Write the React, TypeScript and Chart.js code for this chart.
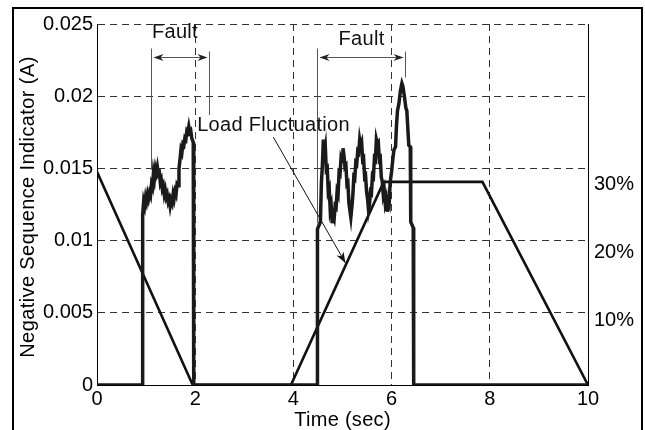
import React, { useEffect, useRef } from "react";
import { Chart, registerables } from "chart.js";

Chart.register(...registerables);

// ---- data ----
const xTicks = [0, 2, 4, 6, 8, 10];
const yTicks = [0, 0.005, 0.01, 0.015, 0.02, 0.025];
const rightTicks = [10, 20, 30];

// negative sequence indicator (A)
const sigT = [
  0, 0.93, 0.93, 0.95, 0.97, 0.99, 1.01, 1.03, 1.05, 1.07, 1.09, 1.11, 1.13, 1.15, 1.17, 1.19,
  1.21, 1.23, 1.25, 1.27, 1.29, 1.31, 1.33, 1.35, 1.37, 1.39, 1.41, 1.43, 1.45, 1.47, 1.49,
  1.51, 1.53, 1.55, 1.57, 1.59, 1.61, 1.63, 1.65, 1.67, 1.69, 1.71, 1.73, 1.75, 1.77, 1.79,
  1.81, 1.83, 1.85, 1.87, 1.89, 1.91, 1.93, 1.96, 1.97, 1.97,
  4.49, 4.49, 4.55, 4.57, 4.59, 4.61, 4.63, 4.65, 4.67, 4.69, 4.71, 4.73, 4.75, 4.77, 4.79,
  4.81, 4.83, 4.85, 4.87, 4.89, 4.91, 4.93, 4.95, 4.97, 4.99, 5.01, 5.03, 5.05, 5.07, 5.09,
  5.11, 5.13, 5.15, 5.17, 5.19, 5.21, 5.23, 5.25, 5.27, 5.29, 5.31, 5.33, 5.35, 5.37, 5.39,
  5.41, 5.43, 5.45, 5.47, 5.49, 5.51, 5.53, 5.55, 5.57, 5.59, 5.61, 5.63, 5.65, 5.67, 5.69,
  5.71, 5.73, 5.75, 5.77, 5.79, 5.81, 5.83, 5.85, 5.87, 5.89, 5.91, 5.93, 5.95, 5.97, 6.0,
  6.03, 6.05, 6.08, 6.10, 6.12, 6.15, 6.18, 6.21, 6.23, 6.26, 6.29, 6.31, 6.33, 6.35, 6.38,
  6.39, 6.44, 6.45, 10,
];
const sigV = [
  0, 0, 0.0118, 0.0127, 0.0124, 0.0130, 0.0127, 0.0132, 0.0129, 0.0133, 0.0131, 0.0139, 0.0137, 0.0147, 0.0143, 0.0150,
  0.0147, 0.0151, 0.0146, 0.0147, 0.0140, 0.0142, 0.0136, 0.0138, 0.0132, 0.0135, 0.0130, 0.0132, 0.0127, 0.0129, 0.0124,
  0.0128, 0.0126, 0.0132, 0.0129, 0.0134, 0.0132, 0.0139, 0.0138, 0.0150, 0.0156, 0.0163, 0.0161, 0.0167, 0.0166, 0.0171,
  0.0170, 0.0176, 0.0175, 0.0179, 0.0175, 0.0176, 0.0171, 0.0168, 0.0168, 0,
  0, 0.0108, 0.0113, 0.0140, 0.0152, 0.0170, 0.0161, 0.0165, 0.0149, 0.0150, 0.0134, 0.0136, 0.0121, 0.0124, 0.0112,
  0.0117, 0.0115, 0.0124, 0.0123, 0.0134, 0.0132, 0.0147, 0.0146, 0.0157, 0.0155, 0.0164, 0.0159, 0.0151, 0.0152, 0.0139,
  0.0140, 0.0126, 0.0121, 0.0116, 0.0123, 0.0131, 0.0144, 0.0143, 0.0154, 0.0153, 0.0162, 0.0161, 0.0170, 0.0166, 0.0168,
  0.0156, 0.0157, 0.0144, 0.0145, 0.0134, 0.0129, 0.0121, 0.0125, 0.0134, 0.0133, 0.0145, 0.0144, 0.0157, 0.0156, 0.0170,
  0.0167, 0.0168, 0.0156, 0.0157, 0.0144, 0.0141, 0.0132, 0.0135, 0.0126, 0.0129, 0.0120, 0.0127, 0.0125, 0.0140, 0.0148,
  0.0158, 0.0163, 0.0165, 0.0180, 0.0190, 0.0195, 0.0204, 0.0209, 0.0207, 0.0200, 0.0192, 0.0190, 0.0178, 0.0166, 0.0165,
  0.0113, 0.0109, 0, 0,
];

// load fluctuation (%)
const loadT = [0, 1.95, 3.95, 5.84, 7.85, 10];
const loadPct = [31.5, 0, 0, 30, 30, 0];

// text
const xTitle = "Time (sec)";
const yTitle = "Negative Sequence Indicator (A)";

// annotation anchors (data units)
const faultLabels = ["Fault", "Fault"];
const faultStart = [1.1, 4.49];
const faultEnd = [2.29, 6.27];
const faultStartBottom = [0.0149, 0.0112];
const faultEndBottom = [0.0187, 0.0213];
const faultTop = 0.0233;
const faultArrowY = 0.0227;
const faultTextX = [1.12, 4.92];
const faultTextY = [0.02438, 0.02396];
const loadLabel = "Load Fluctuation";
const loadTextPos = [2.04, 0.01794];
const loadArrowFrom = [3.59, 0.01717];
const loadArrowTo = [5.06, 0.00845];

const FONT = "'Liberation Sans', Arial, Helvetica, sans-serif";

function arrowHead(ctx: CanvasRenderingContext2D, x1: number, y1: number, x2: number, y2: number, len = 10, w = 3.5) {
  const a = Math.atan2(y2 - y1, x2 - x1);
  const c = Math.cos(a), s = Math.sin(a);
  ctx.beginPath();
  ctx.moveTo(x2, y2);
  ctx.lineTo(x2 - len * c + w * s, y2 - len * s - w * c);
  ctx.lineTo(x2 - len * 0.7 * c, y2 - len * 0.7 * s);
  ctx.lineTo(x2 - len * c - w * s, y2 - len * s + w * c);
  ctx.closePath();
  ctx.fill();
}

const annotPlugin = {
  id: "annot",
  afterDatasetsDraw(chart: any) {
    const { ctx, scales } = chart;
    const x = scales.x, y = scales.y;
    const px = (t: number) => x.getPixelForValue(t);
    const py = (v: number) => y.getPixelForValue(v);
    ctx.save();
    ctx.lineWidth = 1;
    for (let i = 0; i < faultStart.length; i++) {
      ctx.strokeStyle = "#555";
      ctx.fillStyle = "#222";
      const xs = Math.round(px(faultStart[i])) + 0.5;
      const xe = Math.round(px(faultEnd[i])) + 0.5;
      ctx.beginPath();
      ctx.moveTo(xs, py(faultTop));
      ctx.lineTo(xs, py(faultStartBottom[i]));
      ctx.moveTo(xe, py(faultTop) + 3);
      ctx.lineTo(xe, py(faultEndBottom[i]));
      const ay = Math.round(py(faultArrowY)) + 0.5;
      ctx.moveTo(xs + 3, ay);
      ctx.lineTo(xe - 3, ay);
      ctx.stroke();
      arrowHead(ctx, xe, ay, xs + 2, ay);
      arrowHead(ctx, xs, ay, xe - 2, ay);
      ctx.fillStyle = "#111";
      ctx.font = `20px ${FONT}`;
      (ctx as any).letterSpacing = "0.3px";
      ctx.textBaseline = "middle";
      ctx.textAlign = "left";
      ctx.fillText(faultLabels[i], px(faultTextX[i]), py(faultTextY[i]));
      (ctx as any).letterSpacing = "0px";
    }
    // load fluctuation label + arrow
    ctx.fillStyle = "#111";
    ctx.font = `20px ${FONT}`;
    (ctx as any).letterSpacing = "0.3px";
    ctx.textBaseline = "middle";
    ctx.textAlign = "left";
    ctx.fillText(loadLabel, px(loadTextPos[0]), py(loadTextPos[1]));
    (ctx as any).letterSpacing = "0px";
    ctx.strokeStyle = "#111";
    ctx.lineWidth = 1;
    const fx = px(loadArrowFrom[0]), fy = py(loadArrowFrom[1]);
    const tx = px(loadArrowTo[0]), ty = py(loadArrowTo[1]);
    ctx.beginPath();
    ctx.moveTo(fx, fy);
    ctx.lineTo(tx, ty);
    ctx.stroke();
    ctx.fillStyle = "#111";
    arrowHead(ctx, fx, fy, tx, ty, 11, 4);
    ctx.restore();
  },
  afterDraw(chart: any) {
    const { ctx, chartArea } = chart;
    ctx.save();
    // axis titles
    ctx.fillStyle = "#000";
    ctx.font = `20px ${FONT}`;
    ctx.textAlign = "center";
    ctx.textBaseline = "middle";
    (ctx as any).letterSpacing = "0.3px";
    ctx.fillText(xTitle, (chartArea.left + chartArea.right) / 2, 420);
    (ctx as any).letterSpacing = "0.4px";
    ctx.translate(28, 207);
    ctx.rotate(-Math.PI / 2);
    ctx.fillText(yTitle, 0, 0);
    ctx.restore();
    // outer frame
    ctx.save();
    ctx.strokeStyle = "#000";
    ctx.lineWidth = 2;
    ctx.beginPath();
    ctx.moveTo(13, 440);
    ctx.lineTo(13, 8);
    ctx.lineTo(642, 8);
    ctx.lineTo(642, 440);
    ctx.stroke();
    ctx.restore();
  },
};

export default function App() {
  const ref = useRef<HTMLCanvasElement | null>(null);
  useEffect(() => {
    if (!ref.current) return;
    Chart.defaults.font.family = FONT;
    Chart.defaults.color = "#000";
    const chart = new Chart(ref.current, {
      type: "line",
      data: {
        datasets: [
          {
            label: "Negative Sequence Indicator",
            data: sigT.map((t, i) => ({ x: t, y: sigV[i] })),
            borderColor: "#1a1a1a",
            borderWidth: 3.5,
            pointRadius: 0,
            tension: 0,
            yAxisID: "y",
          },
          {
            label: "Load Fluctuation",
            data: loadT.map((t, i) => ({ x: t, y: loadPct[i] })),
            borderColor: "#111",
            borderWidth: 2.6,
            pointRadius: 0,
            tension: 0,
            yAxisID: "y2",
          },
        ],
      },
      options: {
        animation: false,
        responsive: false,
        devicePixelRatio: 1,
        layout: { padding: { left: 14, right: 0, top: 24, bottom: 0 } },
        plugins: { legend: { display: false }, tooltip: { enabled: false } },
        scales: {
          x: {
            type: "linear",
            min: 0,
            max: 10,
            afterBuildTicks: (s: any) => { s.ticks = xTicks.map((v) => ({ value: v })); },
            afterFit: (s: any) => { s.height = 45; },
            ticks: { font: { size: 20 }, padding: 2, color: "#000", maxRotation: 0 },
            grid: { color: "#333", lineWidth: 1, drawTicks: false },
            border: { display: true, color: "#000", width: 1, dash: [7, 5] },
          },
          y: {
            type: "linear",
            position: "left",
            min: 0,
            max: 0.025,
            afterBuildTicks: (s: any) => { s.ticks = yTicks.map((v) => ({ value: v })); },
            afterFit: (s: any) => { s.width = 83; },
            ticks: { font: { size: 20 }, padding: 4, color: "#000", callback: (v: any) => String(+Number(v).toFixed(3)) },
            grid: { color: "#333", lineWidth: 1, drawTicks: false },
            border: { display: true, color: "#000", width: 1, dash: [7, 5] },
          },
          y2: {
            type: "linear",
            position: "right",
            min: 0,
            max: 53.33,
            afterBuildTicks: (s: any) => { s.ticks = rightTicks.map((v) => ({ value: v })); },
            afterFit: (s: any) => { s.width = 57; },
            ticks: { font: { size: 20 }, padding: 6, color: "#000", labelOffset: 3, callback: (v: any) => `${v}%` },
            grid: { display: false, drawTicks: false },
            border: { display: true, color: "#000", width: 1 },
          },
        },
      },
      plugins: [annotPlugin],
    } as any);
    return () => chart.destroy();
  }, []);
  return (
    <div style={{ position: "absolute", left: 0, top: 0, width: 645, height: 430 }}>
      <canvas ref={ref} width={645} height={430} style={{ display: "block", width: 645, height: 430 }} />
    </div>
  );
}
